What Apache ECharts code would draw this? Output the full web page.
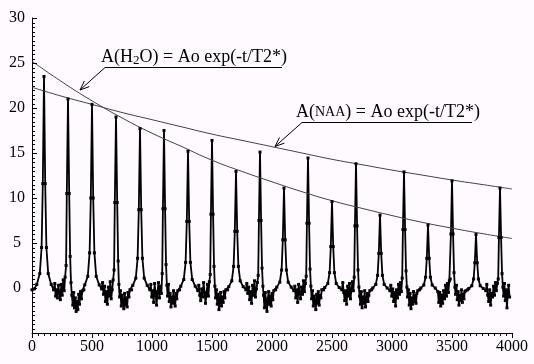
<!DOCTYPE html>
<html>
<head>
<meta charset="utf-8">
<script src="https://cdn.jsdelivr.net/npm/echarts@6/dist/echarts.min.js"></script>
<style>
html,body{margin:0;padding:0;background:#fffaff;}
#chart{width:534px;height:364px;position:relative;}
#err{position:absolute;left:0;top:354px;font:9px sans-serif;color:#c00;white-space:nowrap;}
</style>
</head>
<body>
<div id="chart"></div>
<div id="err"></div>
<script>
// X axis tick labels and Y axis tick labels
const xTicks = [0, 500, 1000, 1500, 2000, 2500, 3000, 3500, 4000];
const yTicks = [0, 5, 10, 15, 20, 25, 30];

// Measured signal (time, amplitude)
const signal = [
  [0,-0.2],[20,-0.1],
  [40,0.4],[65,1.6],[80,4.5],[90,11.6],[100,23.5],[110,11.6],[120,4.5],[135,1.6],[160,0.4],
  [180,-0.2],[190,0.5],[197,-0.9],[205,-0.2],[212,-1.1],[220,0.3],[228,-0.6],[236,-1.3],[244,0.4],[252,-0.8],[260,0.9],[268,-0.3],[276,1.2],[284,2.5],
  [290,10.5],[300,21.0],[310,10.5],[318,3.5],[325,0.6],
  [332,-0.8],[340,-1.9],[347,-0.5],[354,-2.2],[361,-1.1],[368,-2.6],[375,-1.5],[382,-2.4],[389,-0.7],[396,-1.8],[404,-0.4],[412,-1.2],[420,-0.3],[432,-0.2],
  [440,0.35],[465,1.3],[480,3.9],[490,10.0],[500,20.4],[510,10.0],[520,3.9],[535,1.3],[560,0.35],
  [580,-0.1],[588,0.6],[596,-0.7],[604,0.2],[612,-1.5],[620,-0.4],[628,-1.8],[636,0.1],[644,-0.9],[652,0.7],[660,-1.2],[668,-0.2],[676,0.9],[684,2.0],
  [690,9.5],[700,19.0],[710,9.5],[718,3.0],[724,0.4],
  [730,-1.0],[737,-0.3],[744,-2.0],[751,-0.8],[758,-1.6],[765,-2.3],[772,-0.6],[779,-1.9],[786,-1.1],[793,-2.1],[800,-0.5],[808,-1.0],[816,-0.2],[830,-0.2],
  [840,0.3],[865,1.1],[880,3.3],[890,8.7],[900,17.7],[910,8.7],[920,3.3],[935,1.1],[960,0.3],
  [982,-0.2],[990,0.4],[998,-1.0],[1006,-0.3],[1014,-1.6],[1022,0.5],[1030,-0.7],[1038,-1.9],[1046,-0.4],[1054,0.6],[1062,-1.1],[1070,0.2],[1078,-0.6],[1085,1.6],
  [1091,8.8],[1100,17.5],[1109,8.8],[1117,2.6],[1124,0.3],
  [1130,-0.9],[1137,0.4],[1144,-1.5],[1151,-0.6],[1158,-2.1],[1165,-1.0],[1172,-1.7],[1179,-0.3],[1186,-1.4],[1193,-2.0],[1200,-0.6],[1207,-1.2],[1215,-0.3],[1230,-0.2],
  [1240,0.2],[1265,0.95],[1280,2.85],[1290,7.4],[1300,15.2],[1310,7.4],[1320,2.85],[1335,0.95],[1360,0.2],
  [1382,-0.3],[1390,0.3],[1398,-0.8],[1406,-1.4],[1414,-0.1],[1422,-1.0],[1430,0.6],[1438,-0.5],[1446,-1.7],[1454,-0.6],[1462,0.4],[1470,-0.9],[1478,0.7],[1485,1.5],
  [1491,8.2],[1500,16.4],[1509,8.2],[1517,2.4],[1524,0.2],
  [1530,-1.1],[1537,-0.2],[1544,-1.8],[1551,-0.7],[1558,-2.4],[1565,-1.3],[1572,-0.5],[1579,-2.0],[1586,-1.0],[1593,-1.6],[1600,-0.4],[1607,-1.1],[1615,-0.2],[1630,-0.2],
  [1640,0.15],[1665,0.8],[1680,2.4],[1690,6.3],[1700,12.95],[1710,6.3],[1720,2.4],[1735,0.8],[1760,0.15],
  [1782,-0.2],[1790,0.5],[1798,-0.6],[1806,0.1],[1814,-1.3],[1822,-0.4],[1830,-1.7],[1838,0.3],[1846,-0.8],[1854,0.8],[1862,-1.0],[1870,-0.1],[1878,0.6],[1885,1.4],
  [1891,7.5],[1900,15.1],[1909,7.5],[1917,2.2],[1924,0.2],
  [1930,-0.8],[1937,-2.2],[1944,-0.5],[1951,-1.6],[1958,-2.6],[1965,-1.2],[1972,-0.4],[1979,-1.8],[1986,-0.9],[1993,-2.0],[2000,-0.6],[2007,-1.3],[2015,-0.3],[2030,-0.2],
  [2040,0.1],[2065,0.65],[2080,2.0],[2090,5.35],[2100,11.1],[2110,5.35],[2120,2.0],[2135,0.65],[2160,0.1],
  [2182,-0.3],[2190,0.2],[2198,-1.1],[2206,-0.2],[2214,-1.6],[2222,0.4],[2230,-0.5],[2238,-1.2],[2246,0.1],[2254,-0.7],[2262,0.8],[2270,-0.4],[2278,0.5],[2285,1.3],
  [2291,7.2],[2300,14.45],[2309,7.2],[2317,2.1],[2324,0.2],
  [2330,-1.2],[2337,-0.3],[2344,-2.0],[2351,-0.9],[2358,-1.5],[2365,-2.4],[2372,-0.7],[2379,-1.7],[2386,-0.4],[2393,-1.9],[2400,-0.8],[2407,-1.1],[2415,-0.2],[2430,-0.2],
  [2440,0.05],[2465,0.5],[2480,1.7],[2490,4.6],[2500,9.6],[2510,4.6],[2520,1.7],[2535,0.5],[2560,0.05],
  [2582,-0.2],[2590,0.6],[2598,-0.5],[2606,-1.4],[2614,-0.3],[2622,-1.8],[2630,0.2],[2638,-0.9],[2646,0.5],[2654,-1.2],[2662,-0.2],[2670,0.7],[2678,-0.3],[2685,1.2],
  [2691,6.9],[2700,13.8],[2709,6.9],[2717,2.0],[2724,0.1],
  [2730,-0.9],[2737,-1.8],[2744,-0.4],[2751,-2.2],[2758,-1.0],[2765,-1.7],[2772,-0.3],[2779,-2.1],[2786,-1.2],[2793,-0.6],[2800,-1.5],[2807,-0.8],[2815,-0.3],[2830,-0.2],
  [2840,0.0],[2865,0.4],[2880,1.4],[2890,3.85],[2900,8.1],[2910,3.85],[2920,1.4],[2935,0.4],[2960,0.0],
  [2982,-0.3],[2990,0.3],[2998,-0.9],[3006,-0.1],[3014,-1.5],[3022,-0.5],[3030,-2.0],[3038,-0.2],[3046,-1.1],[3054,0.4],[3062,-0.7],[3070,0.6],[3078,-0.4],[3085,1.1],
  [3091,6.5],[3100,12.9],[3109,6.5],[3117,1.9],[3124,0.1],
  [3130,-1.0],[3137,-0.2],[3144,-1.9],[3151,-0.6],[3158,-2.3],[3165,-1.1],[3172,-1.8],[3179,-0.4],[3186,-1.5],[3193,-0.8],[3200,-1.7],[3207,-0.6],[3215,-0.3],[3230,-0.2],
  [3240,0.0],[3265,0.33],[3280,1.2],[3290,3.3],[3300,7.0],[3310,3.3],[3320,1.2],[3335,0.33],[3360,0.0],
  [3382,-0.4],[3390,-1.6],[3398,-0.5],[3406,-2.0],[3414,-0.8],[3422,-1.7],[3430,-0.3],[3438,-1.2],[3446,0.3],[3454,-0.9],[3462,0.5],[3470,-0.5],[3478,0.8],[3485,1.0],
  [3491,6.0],[3500,11.9],[3509,6.0],[3517,1.7],[3524,0.1],
  [3530,-0.7],[3537,0.3],[3544,-1.3],[3551,-0.4],[3558,-1.9],[3565,-0.8],[3572,-1.4],[3579,-0.2],[3586,-1.6],[3593,-0.7],[3600,-1.2],[3607,-0.4],[3615,-0.3],[3630,-0.2],
  [3640,-0.05],[3665,0.25],[3680,1.0],[3690,2.8],[3700,5.95],[3710,2.8],[3720,1.0],[3735,0.25],[3760,-0.05],
  [3782,-0.3],[3790,0.4],[3798,-0.8],[3806,-1.5],[3814,-0.2],[3822,-1.9],[3830,-0.6],[3838,-1.0],[3846,0.2],[3854,-0.8],[3862,0.6],[3870,-0.3],[3878,0.5],[3885,1.0],
  [3891,5.6],[3900,11.1],[3909,5.6],[3917,1.6],[3924,0.1],
  [3930,-0.9],[3937,0.5],[3944,-1.4],[3951,-0.2],[3958,-2.2],[3965,-0.6],[3972,0.3],[3980,-1.0]
];

// Fitted decay curves
const fitX   = [0, 250, 500, 750, 1000, 1250, 1500, 1750, 2000, 2250, 2500, 2750, 3000, 3250, 3500, 3750, 4000];
const h2oFit = [25.2, 22.9, 20.8, 18.9, 17.2, 15.7, 14.2, 12.95, 11.8, 10.7, 9.7, 8.85, 8.05, 7.3, 6.65, 6.05, 5.5];
const naaFit = [22.3, 21.3, 20.4, 19.5, 18.7, 17.9, 17.1, 16.4, 15.7, 15.0, 14.3, 13.7, 13.1, 12.55, 12.0, 11.5, 11.0];

const SERIF = '"Liberation Serif", "Times New Roman", serif';
const X_MIN = xTicks[0], X_MAX = xTicks[xTicks.length - 1], X_STEP = 500;
const Y_MIN = -5, Y_MAX = yTicks[yTicks.length - 1], Y_STEP = 5;
const GRID = { left: 32, right: 22, top: 18, bottom: 31 };

const errors = [];
function report(e) { errors.push(String(e && e.message || e)); document.getElementById('err').textContent = errors.join(' | '); }
window.addEventListener('error', function (ev) { report(ev.message); });

function arrowHead(x1, y1, x2, y2, len, deg) {
  const a = Math.atan2(y1 - y2, x1 - x2);
  const r = deg * Math.PI / 180;
  return [-r, r].map(function (d) {
    return {
      type: 'line',
      shape: { x1: x2, y1: y2, x2: x2 + len * Math.cos(a + d), y2: y2 + len * Math.sin(a + d) },
      style: { stroke: '#000', lineWidth: 1 }
    };
  });
}

const chart = echarts.init(document.getElementById('chart'));

const axisFont = { fontFamily: SERIF, fontSize: 16, color: '#000' };

const annotations = [].concat(
  [
    { type: 'line', shape: { x1: 105, y1: 67.5, x2: 282, y2: 67.5 }, style: { stroke: '#000', lineWidth: 1 } },
    { type: 'line', shape: { x1: 105, y1: 67.5, x2: 80, y2: 90 }, style: { stroke: '#000', lineWidth: 1 } },
    { type: 'line', shape: { x1: 302, y1: 122.5, x2: 472, y2: 122.5 }, style: { stroke: '#000', lineWidth: 1 } },
    { type: 'line', shape: { x1: 302, y1: 122.5, x2: 275, y2: 146.5 }, style: { stroke: '#000', lineWidth: 1 } },
    {
      type: 'text', x: 101, y: 47,
      style: {
        text: 'A(H{sub|2}O) = Ao exp(-t/T2*)',
        fontFamily: SERIF, fontSize: 18, fill: '#000', lineHeight: 20,
        verticalAlign: 'top', align: 'left',
        rich: { sub: { fontFamily: SERIF, fontSize: 13, lineHeight: 12, verticalAlign: 'bottom', fill: '#000' } }
      }
    },
    {
      type: 'text', x: 296, y: 102,
      style: {
        text: 'A({sc|NAA}) = Ao exp(-t/T2*)',
        fontFamily: SERIF, fontSize: 18, fill: '#000', lineHeight: 20,
        verticalAlign: 'top', align: 'left',
        rich: { sc: { fontFamily: SERIF, fontSize: 14, lineHeight: 20, fill: '#000' } }
      }
    }
  ],
  arrowHead(105, 67.5, 80, 90, 10, 22),
  arrowHead(302, 122.5, 275, 146.5, 10, 22)
);

try {
  chart.setOption({
    backgroundColor: '#fffaff',
    animation: false,
    grid: { left: GRID.left, right: GRID.right, top: GRID.top, bottom: GRID.bottom, containLabel: false },
    xAxis: {
      type: 'value', min: X_MIN, max: X_MAX, interval: X_STEP,
      axisLine: { show: true, onZero: false, lineStyle: { color: '#000', width: 1 } },
      axisTick: { show: false },
      splitLine: { show: false },
      axisLabel: Object.assign({
        margin: 6, showMinLabel: true, showMaxLabel: true,
        formatter: function (v) { return String(v); }
      }, axisFont)
    },
    yAxis: {
      type: 'value', min: Y_MIN, max: Y_MAX, interval: Y_STEP,
      axisLine: { show: true, onZero: false, lineStyle: { color: '#000', width: 1 } },
      axisTick: { show: false },
      splitLine: { show: false },
      axisLabel: Object.assign({
        margin: 15, align: 'center',
        formatter: function (v) { return yTicks.indexOf(v) >= 0 ? String(v) : ''; }
      }, axisFont)
    },
    series: [
      {
        type: 'line', data: signal,
        lineStyle: { color: '#000', width: 1.8 },
        itemStyle: { color: '#000' },
        symbol: 'rect', symbolSize: 3, showSymbol: true, showAllSymbol: true
      },
      {
        type: 'line', data: fitX.map(function (x, i) { return [x, h2oFit[i]]; }),
        smooth: true, showSymbol: false,
        lineStyle: { color: '#444', width: 1 }
      },
      {
        type: 'line', data: fitX.map(function (x, i) { return [x, naaFit[i]]; }),
        smooth: true, showSymbol: false,
        lineStyle: { color: '#444', width: 1 }
      }
    ],
    graphic: { elements: annotations }
  });
} catch (e) { report(e); }

// Axis tick marks (major + minor), positioned through the axes' own scales
function toPixel(xv, yv) {
  let p = null;
  try { p = chart.convertToPixel({ xAxisIndex: 0, yAxisIndex: 0 }, [xv, yv]); } catch (e) { report(e); }
  if (!p || !isFinite(p[0]) || !isFinite(p[1])) {
    const w = chart.getWidth() - GRID.left - GRID.right;
    const h = chart.getHeight() - GRID.top - GRID.bottom;
    p = [GRID.left + (xv - X_MIN) / (X_MAX - X_MIN) * w,
         GRID.top + (Y_MAX - yv) / (Y_MAX - Y_MIN) * h];
  }
  return p;
}
const ticks = [];
for (let i = 0; i <= (X_MAX - X_MIN) / (X_STEP / 10); i++) {
  const p = toPixel(X_MIN + i * X_STEP / 10, Y_MIN);
  const len = i % 10 === 0 ? 5 : 3;
  const x = Math.round(p[0]) + 0.5, y = Math.round(p[1]);
  ticks.push({ type: 'line', z: 100, shape: { x1: x, y1: y, x2: x, y2: y + len }, style: { stroke: '#000', lineWidth: 1 } });
}
for (let i = 0; i <= (Y_MAX - Y_MIN) / (Y_STEP / 10); i++) {
  const p = toPixel(X_MIN, Y_MIN + i * Y_STEP / 10);
  const len = i % 10 === 0 ? 5 : 3;
  const x = Math.round(p[0]), y = Math.round(p[1]) + 0.5;
  ticks.push({ type: 'line', z: 100, shape: { x1: x, y1: y, x2: x + len, y2: y }, style: { stroke: '#000', lineWidth: 1 } });
}
try {
  chart.setOption({ graphic: { elements: annotations.concat(ticks) } });
} catch (e) { report(e); }
</script>
</body>
</html>
